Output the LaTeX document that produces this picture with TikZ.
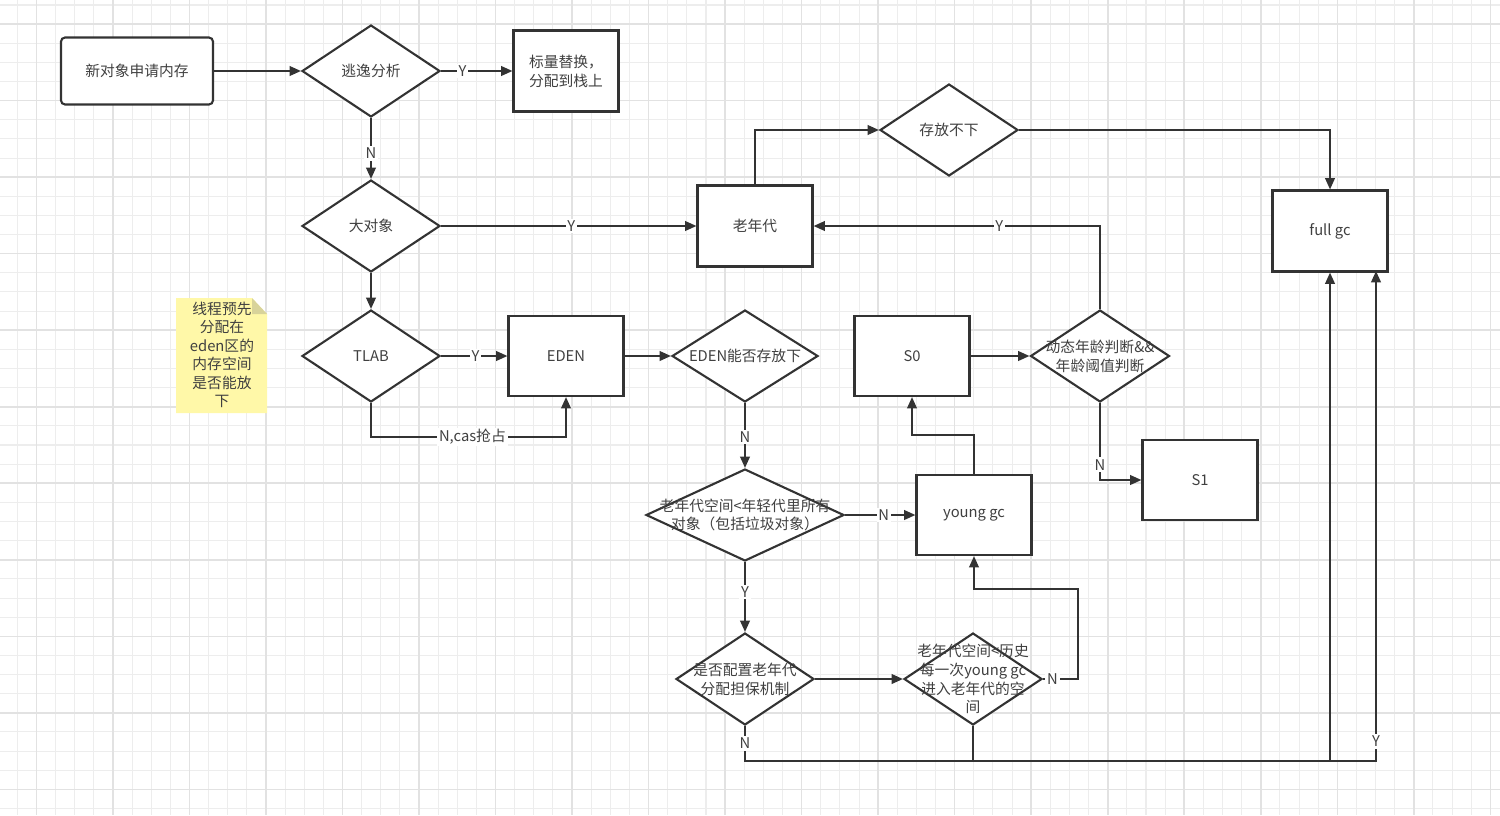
\documentclass[tikz,border=0pt]{standalone}
\usepackage{fontspec}
\setmainfont{Noto Sans CJK SC}
\usetikzlibrary{shapes.geometric,arrows.meta,calc}
\definecolor{ink}{HTML}{333333}
\definecolor{txt}{HTML}{404040}
\definecolor{gridminor}{HTML}{EDEDED}
\definecolor{gridmajor}{HTML}{E2E2E2}
\definecolor{notefill}{HTML}{FFF8A8}
\definecolor{notefold}{HTML}{D8D39A}
\tikzset{
  base/.style={draw=ink, line width=1.2pt, fill=white, inner sep=0pt, text=txt, align=center},
  box/.style 2 args={base, rectangle, minimum width=#1, minimum height=#2},
  dia/.style 2 args={base, diamond, minimum width=#1, minimum height=#2},
  arr/.style={draw=ink, line width=1.15pt, -{Triangle[length=6.5pt,width=5.5pt]}},
  lbl/.style={fill=white, inner sep=1pt, text=txt},
  gmin/.style={draw=gridminor, line width=0.6pt},
  gmaj/.style={draw=gridmajor, line width=0.9pt},
  every label/.style={text=txt, align=center},
}
\begin{document}
\begin{tikzpicture}[x=0.02cm,y=-0.02cm,
  every node/.append style={font=\fontsize{8.4}{10.7}\selectfont}]
\useasboundingbox (0,0) rectangle (1500,815);
\fill[white] (0,0) rectangle (1500,815);
% grid
\foreach \k in {0,...,77} \draw[gmin] ({17.3+19.13*\k},0) -- ++(0,815);
\foreach \k in {0,...,42} \draw[gmin] (0,{5+19.13*\k}) -- ++(1500,0);
\foreach \k in {1,5,...,77} \draw[gmaj] ({17.3+19.13*\k},0) -- ++(0,815);
\foreach \k in {1,5,...,41} \draw[gmaj] (0,{5+19.13*\k}) -- ++(1500,0);

% note
\fill[notefill] (176,298) -- (252,298) -- (267,314) -- (267,413) -- (176,413) -- cycle;
\fill[notefold] (252,298) -- (267,314) -- (252,314) -- cycle;
\node[text=txt, align=center, font=\fontsize{8.4}{10.5}\selectfont] (note) at (222,355)
  {线程预先\\分配在\\eden区的\\内存空间\\是否能放\\下};

% nodes
\node[box={3.04cm}{1.34cm}, rounded corners=2.3pt] (new) at (137,71) {新对象申请内存};
\node[dia={2.76cm}{1.84cm}, label={center:逃逸分析}] (esc) at (371,71) {};
\node[box={2.1cm}{1.62cm}] (scal) at (566,71) {标量替换，\\分配到栈上};
\node[dia={2.76cm}{1.84cm}, label={center:大对象}] (big) at (371,226) {};
\node[box={2.3cm}{1.62cm}] (old) at (755,226) {老年代};
\node[dia={2.76cm}{1.84cm}, label={center:TLAB}] (tlab) at (371,356) {};
\node[box={2.3cm}{1.6cm}] (eden) at (566,356) {EDEN};
\node[dia={2.92cm}{1.84cm}, label={center:EDEN能否存放下}] (edenq) at (745,356) {};
\node[dia={2.76cm}{1.84cm}, label={center:存放不下}] (full) at (949,130) {};
\node[box={2.3cm}{1.62cm}] (fullgc) at (1330,231) {full gc};
\node[box={2.3cm}{1.6cm}] (s0) at (912,356) {S0};
\node[dia={2.78cm}{1.84cm}, label={center:{动态年龄判断\&\&\\年龄阈值判断}}] (age) at (1100,356) {};
\node[box={2.3cm}{1.6cm}] (s1) at (1200,480) {S1};
\node[dia={3.96cm}{1.84cm}, label={center:{老年代空间<年轻代里所有\\对象（包括垃圾对象）}}] (cmp1) at (745,515) {};
\node[box={2.3cm}{1.6cm}] (ygc) at (974,515) {young gc};
\node[dia={2.76cm}{1.84cm}, label={center:{是否配置老年代\\分配担保机制}}] (guar) at (745,679) {};
\node[dia={2.76cm}{1.84cm}, label={center:{老年代空间<历史\\每一次young gc\\进入老年代的空\\间}}] (cmp2) at (973,679) {};
\coordinate (fgcY) at (1376,271);

% connectors
\draw[arr] (new.east) -- (esc.west);
\draw[arr] (esc.east) -- node[lbl,pos=0.3]{Y} (scal.west);
\draw[arr] (esc.south) -- node[lbl,pos=0.58]{N} (big.north);
\draw[arr] (big.east) -- node[lbl,pos=0.51]{Y} (old.west);
\draw[arr] (big.south) -- (tlab.north);
\draw[arr] (tlab.east) -- node[lbl,pos=0.52]{Y} (eden.west);
\draw[arr] (tlab.south) -- ++(0,34) -| node[lbl,pos=0.26]{N,cas抢占} (eden.south);
\draw[arr] (eden.east) -- (edenq.west);
\draw[arr] (edenq.south) -- node[lbl,pos=0.52]{N} (cmp1.north);
\draw[arr] (cmp1.east) -- node[lbl,pos=0.55]{N} (ygc.west);
\draw[arr] (cmp1.south) -- node[lbl,pos=0.43]{Y} (guar.north);
\draw[arr] (guar.east) -- (cmp2.west);
\draw[arr] (cmp2.east) -- node[lbl,pos=0.27]{N} ++(35,0) -- ++(0,-90) -| (ygc.south);
\draw[arr] (ygc.north) -- ++(0,-39) -| (s0.south);
\draw[arr] (s0.east) -- (age.west);
\draw[arr] (age.north) |- node[lbl,pos=0.676]{Y} (old.east);
\draw[arr] (age.south) |- node[lbl,pos=0.4]{N} (s1.west);
\draw[arr] (old.north) |- (full.west);
\draw[arr] (full.east) -| (fullgc.north);
\draw[arr] (guar.south) -- node[lbl,pos=0.5]{N} ++(0,35) -| (fullgc.south);
\draw[arr] (cmp2.south) -- ++(0,35) -| node[lbl,pos=0.52]{Y} (fgcY);
\end{tikzpicture}
\end{document}
